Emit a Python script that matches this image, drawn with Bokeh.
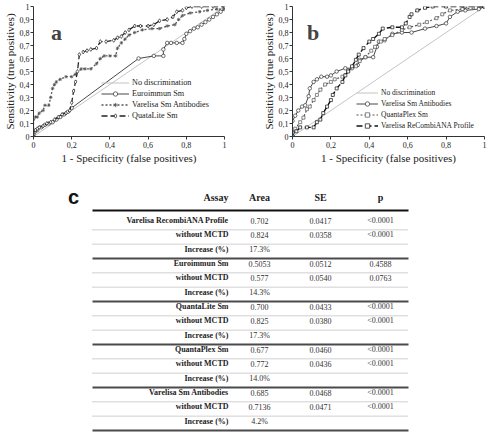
import json
from bokeh.plotting import figure
from bokeh.models import (Range1d, FixedTicker, CustomJSTickFormatter, Legend, LegendItem,
                          Label, ColumnDataSource)
from bokeh.layouts import row, column
from bokeh.core.properties import value
from bokeh.embed import file_html
from bokeh.resources import INLINE

SERIF = "Liberation Serif"

# ---------------- data: panel a ----------------
diag_x = [0, 1]
diag_y = [0, 1]

euro_fpr = [0, 0.0, 0.01, 0.02, 0.04, 0.06, 0.08, 0.10, 0.12, 0.14, 0.16, 0.18, 0.20, 0.55, 0.63,
            0.68, 0.68, 0.70, 0.72, 0.75, 0.78, 0.79, 0.80, 0.82, 0.84, 0.86, 0.88, 0.90, 0.92,
            0.94, 0.96, 0.98, 1.0, 1.0]
euro_tpr = [0, 0.02, 0.04, 0.05, 0.07, 0.09, 0.10, 0.11, 0.13, 0.15, 0.17, 0.19, 0.22, 0.60, 0.62,
            0.62, 0.67, 0.72, 0.72, 0.72, 0.72, 0.75, 0.79, 0.81, 0.83, 0.84, 0.86, 0.88, 0.90,
            0.92, 0.94, 0.96, 0.98, 1.0]

vsm_a_fpr = [0, 0, 0.01, 0.02, 0.03, 0.05, 0.06, 0.08, 0.09, 0.10, 0.11, 0.12, 0.14, 0.17, 0.20,
             0.22, 0.25, 0.27, 0.30, 0.33, 0.35, 0.37, 0.40, 0.43, 0.44, 0.46, 0.48, 0.50, 0.53,
             0.57, 0.62, 0.66, 0.70, 0.74, 0.76, 0.78, 0.82, 0.87, 0.91, 0.96, 1.0, 1.0]
vsm_a_tpr = [0, 0.13, 0.15, 0.15, 0.18, 0.20, 0.24, 0.24, 0.30, 0.37, 0.40, 0.42, 0.44, 0.46, 0.46,
             0.48, 0.52, 0.52, 0.52, 0.56, 0.60, 0.62, 0.62, 0.62, 0.68, 0.72, 0.75, 0.78, 0.80,
             0.82, 0.83, 0.83, 0.85, 0.86, 0.90, 0.93, 0.95, 0.96, 0.97, 0.98, 0.98, 1.0]

qlite_fpr = [0, 0, 0.01, 0.02, 0.03, 0.05, 0.07, 0.09, 0.11, 0.13, 0.15, 0.17, 0.19, 0.20, 0.21,
             0.22, 0.23, 0.24, 0.26, 0.28, 0.30, 0.33, 0.35, 0.38, 0.42, 0.44, 0.46, 0.48, 0.50,
             0.53, 0.56, 0.60, 0.63, 0.66, 0.70, 0.73, 0.75, 0.78, 0.80, 0.83, 0.88, 0.94, 1.0]
qlite_tpr = [0, 0.03, 0.05, 0.06, 0.07, 0.08, 0.10, 0.11, 0.13, 0.15, 0.17, 0.18, 0.20, 0.26, 0.35,
             0.42, 0.50, 0.63, 0.65, 0.66, 0.67, 0.68, 0.73, 0.73, 0.74, 0.76, 0.77, 0.80, 0.82,
             0.85, 0.85, 0.85, 0.86, 0.89, 0.90, 0.92, 0.96, 0.97, 0.99, 1.0, 1.0, 1.0, 1.0]

# ---------------- data: panel b ----------------
vsm_b_fpr = [0, 0, 0.014, 0.03, 0.05, 0.066, 0.084, 0.09, 0.11, 0.127, 0.15, 0.18, 0.20, 0.23,
             0.275, 0.31, 0.34, 0.35, 0.38, 0.42, 0.44, 0.45, 0.48, 0.52, 0.57, 0.62, 0.69, 0.75,
             0.80, 0.82, 0.86, 0.90, 0.97, 1.0]
vsm_b_tpr = [0, 0.12, 0.16, 0.20, 0.23, 0.24, 0.31, 0.37, 0.42, 0.44, 0.46, 0.46, 0.47, 0.50,
             0.525, 0.525, 0.55, 0.59, 0.61, 0.61, 0.69, 0.73, 0.74, 0.79, 0.80, 0.80, 0.83, 0.85,
             0.87, 0.92, 0.96, 0.97, 0.98, 1.0]

qplex_fpr = [0, 0, 0.014, 0.04, 0.057, 0.075, 0.09, 0.11, 0.127, 0.145, 0.17, 0.20, 0.22, 0.26,
             0.29, 0.33, 0.35, 0.38, 0.41, 0.43, 0.46, 0.48, 0.52, 0.57, 0.61, 0.66, 0.70, 0.75,
             0.78, 0.82, 0.885, 0.955, 1.0]
qplex_tpr = [0, 0.03, 0.06, 0.11, 0.145, 0.21, 0.23, 0.28, 0.32, 0.36, 0.40, 0.42, 0.44, 0.46,
             0.51, 0.54, 0.58, 0.61, 0.66, 0.69, 0.73, 0.75, 0.78, 0.82, 0.84, 0.86, 0.88, 0.91,
             0.94, 0.97, 0.98, 0.99, 1.0]

recomb_fpr = [0, 0, 0.02, 0.04, 0.075, 0.11, 0.127, 0.145, 0.16, 0.18, 0.20, 0.21, 0.23, 0.26,
              0.275, 0.29, 0.31, 0.33, 0.345, 0.37, 0.40, 0.42, 0.45, 0.47, 0.52, 0.57, 0.59,
              0.61, 0.62, 0.65, 0.69, 0.73, 0.80, 0.90, 1.0]
recomb_tpr = [0, 0.03, 0.04, 0.07, 0.07, 0.07, 0.11, 0.13, 0.18, 0.23, 0.28, 0.32, 0.37, 0.42,
              0.47, 0.50, 0.54, 0.59, 0.63, 0.68, 0.73, 0.75, 0.79, 0.83, 0.84, 0.84, 0.87,
              0.92, 0.94, 0.97, 0.99, 1.0, 1.0, 1.0, 1.0]

x_tick_vals = [0, 0.2, 0.4, 0.6, 0.8, 1]
x_tick_labels = ["0", "0,2", "0,4", "0,6", "0,8", "1"]
y_tick_vals = [0, 0.1, 0.2, 0.3, 0.4, 0.5, 0.6, 0.7, 0.8, 0.9, 1]
y_tick_labels = ["0", "0,1", "0,2", "0,3", "0,4", "0,5", "0,6", "0,7", "0,8", "0,9", "1"]

# ---------------- data: table ----------------
table_header = ["Assay", "Area", "SE", "p"]
assay_labels = ["Varelisa RecombiANA Profile", "without MCTD", "Increase (%)",
                "Euroimmun Sm", "without MCTD", "Increase (%)",
                "QuantaLite Sm", "without MCTD", "Increase (%)",
                "QuantaPlex Sm", "without MCTD", "Increase (%)",
                "Varelisa Sm Antibodies", "without MCTD", "Increase (%)"]
area_vals = ["0.702", "0.824", "17.3%", "0.5053", "0.577", "14.3%", "0.700", "0.825", "17.3%",
             "0.677", "0.772", "14.0%", "0.685", "0.7136", "4.2%"]
se_vals = ["0.0417", "0.0358", "", "0.0512", "0.0540", "", "0.0433", "0.0380", "",
           "0.0460", "0.0436", "", "0.0468", "0.0471", ""]
p_vals = ["<0.0001", "<0.0001", "", "0.4588", "0.0763", "", "<0.0001", "<0.0001", "",
          "<0.0001", "<0.0001", "", "<0.0001", "<0.0001", ""]


def tick_formatter(vals, labs):
    code = ("const vals = %s; const labs = %s;"
            "for (let i = 0; i < vals.length; i++) { if (Math.abs(vals[i] - tick) < 1e-6) return labs[i]; }"
            "return '';") % (json.dumps(vals), json.dumps(labs))
    return CustomJSTickFormatter(code=code)


def make_panel(width, border_left, border_right):
    p = figure(width=width, height=170, output_backend="svg", toolbar_location=None,
               x_range=Range1d(0, 1), y_range=Range1d(0, 1),
               min_border_left=border_left, min_border_right=border_right,
               min_border_top=6, min_border_bottom=34)
    p.outline_line_color = None
    p.xgrid.visible = False
    p.ygrid.visible = False
    p.background_fill_color = "white"
    p.border_fill_color = "white"
    p.xaxis.ticker = FixedTicker(ticks=x_tick_vals)
    p.yaxis.ticker = FixedTicker(ticks=y_tick_vals)
    p.xaxis.formatter = tick_formatter(x_tick_vals, x_tick_labels)
    p.yaxis.formatter = tick_formatter(y_tick_vals, y_tick_labels)
    p.xaxis.axis_label = "1 - Specificity (false positives)"
    p.yaxis.axis_label = "Sensitivity (true positives)"
    for ax in (p.xaxis[0], p.yaxis[0]):
        ax.axis_label_text_font = SERIF
        ax.axis_label_text_font_size = "11px"
        ax.axis_label_text_font_style = "normal"
        ax.axis_label_text_color = "#222222"
        ax.axis_label_standoff = 1
        ax.major_label_text_font = SERIF
        ax.major_label_text_font_size = "8px"
        ax.major_label_text_color = "#222222"
        ax.major_label_standoff = 1
        ax.major_tick_out = 3
        ax.major_tick_in = 0
        ax.minor_tick_out = 0
        ax.minor_tick_in = 0
        ax.axis_line_color = "#333333"
        ax.major_tick_line_color = "#333333"
    p.xaxis[0].axis_label_standoff = 1
    p.xaxis[0].major_label_standoff = 2
    return p


def add_series(p, xs, ys, color, dash, width, marker, msize):
    ln = p.line(xs, ys, line_color=color, line_dash=dash, line_width=width)
    if marker is None:
        return [ln]
    sc = p.scatter(xs, ys, marker=marker, size=msize, fill_color="white",
                   line_color=color, line_width=0.7)
    return [ln, sc]


def style_legend(p, items, loc, glyph_w, font_size):
    leg = Legend(items=items, location=loc)
    leg.label_text_font = SERIF
    leg.label_text_font_size = font_size
    leg.label_text_color = "#222222"
    leg.label_height = 11
    leg.glyph_height = 11
    leg.glyph_width = glyph_w
    leg.label_standoff = 3
    leg.spacing = 0
    leg.padding = 0
    leg.margin = 0
    leg.border_line_color = None
    leg.background_fill_alpha = 0
    p.add_layout(leg)


# ---------------- panel a ----------------
pa = make_panel(246, 32, 22)
r_diag = add_series(pa, diag_x, diag_y, "#c4c4c4", "solid", 1, None, 0)
r_euro = add_series(pa, euro_fpr, euro_tpr, "#333333", "solid", 0.9, "circle", 3.5)
r_vsm = add_series(pa, vsm_a_fpr, vsm_a_tpr, "#555555", "2 2", 1.3, "asterisk", 3.5)
r_ql = add_series(pa, qlite_fpr, qlite_tpr, "#222222", "6 3", 1.3, "diamond", 4)
style_legend(pa, [LegendItem(label="No discrimination", renderers=r_diag),
                  LegendItem(label="Euroimmun Sm", renderers=r_euro),
                  LegendItem(label="Varelisa Sm Antibodies", renderers=r_vsm),
                  LegendItem(label="QuataLite Sm", renderers=r_ql)], (68, 15), 28, "8.2px")
pa.add_layout(Label(x=0.12, y=0.8, text="a", text_font=SERIF, text_font_size="22px",
                    text_font_style="bold", text_align="center", text_baseline="alphabetic"))

# ---------------- panel b ----------------
pb = make_panel(246, 46, 8)
rb_diag = add_series(pb, diag_x, diag_y, "#c4c4c4", "solid", 1, None, 0)
rb_vsm = add_series(pb, vsm_b_fpr, vsm_b_tpr, "#333333", "solid", 0.9, "circle", 3.5)
rb_qp = add_series(pb, qplex_fpr, qplex_tpr, "#555555", "2 2", 1.2, "square", 3)
rb_rc = add_series(pb, recomb_fpr, recomb_tpr, "#111111", "6 3", 1.4, "square", 3)
style_legend(pb, [LegendItem(label="No discrimination", renderers=rb_diag),
                  LegendItem(label="Varelisa Sm Antibodies", renderers=rb_vsm),
                  LegendItem(label="QuantaPlex Sm", renderers=rb_qp),
                  LegendItem(label="Varelisa ReCombiANA Profile", renderers=rb_rc)], (64, 5), 22, "7.5px")
pb.add_layout(Label(x=0.107, y=0.8, text="b", text_font=SERIF, text_font_size="22px",
                    text_font_style="bold", text_align="center", text_baseline="alphabetic"))

# ---------------- table ----------------
n_rows = len(assay_labels)
pt = figure(width=492, height=265, output_backend="svg", toolbar_location=None,
            x_range=Range1d(0, 492), y_range=Range1d(15.35, -3.14),
            x_axis_type=None, y_axis_type=None,
            min_border_left=0, min_border_right=0, min_border_top=0, min_border_bottom=0)
pt.outline_line_color = None
pt.xgrid.visible = False
pt.ygrid.visible = False

X_LEFT, X_RIGHT = 92, 408
X_LABEL, X_AREA, X_SE, X_P = 228, 259, 320, 380
HEADER_Y = -1.26

src = ColumnDataSource(dict(y=[i + 0.35 for i in range(n_rows)], label=assay_labels,
                            area=area_vals, se=se_vals, p=p_vals))
pt.text(x=X_LABEL, y="y", text="label", source=src, text_align="right", text_baseline="middle",
        text_font=value(SERIF), text_font_style="bold", text_font_size="8px", text_color="#222222")
for xc, col in ((X_AREA, "area"), (X_SE, "se"), (X_P, "p")):
    pt.text(x=xc, y="y", text=col, source=src, text_align="center", text_baseline="middle",
            text_font=value(SERIF), text_font_size="8px", text_color="#333333")

pt.text(x=[X_LABEL], y=[HEADER_Y], text=[table_header[0]], text_align="right",
        text_baseline="middle", text_font=value(SERIF), text_font_style="bold",
        text_font_size="10px", text_color="#222222")
pt.text(x=[X_AREA, X_SE, X_P], y=[HEADER_Y] * 3, text=table_header[1:], text_align="center",
        text_baseline="middle", text_font=value(SERIF), text_font_style="bold",
        text_font_size="10px", text_color="#222222")
pt.text(x=[73], y=[HEADER_Y], text=["c"], text_align="center", text_baseline="middle",
        text_font=value("Liberation Sans"), text_font_style="bold", text_font_size="20px",
        text_color="#111111")

pt.segment(x0=X_LEFT, x1=X_RIGHT, y0=-0.35, y1=-0.35, line_color="#111111", line_width=2.2)
thin_y = [i + 1 for i in range(n_rows) if (i + 1) % 3 != 0]
thick_y = [i + 1 for i in range(n_rows) if (i + 1) % 3 == 0]
pt.segment(x0=X_LEFT, x1=X_RIGHT, y0=thin_y, y1=thin_y, line_color="#8a8a8a",
           line_width=0.8, line_dash="1 1")
pt.segment(x0=X_LEFT, x1=X_RIGHT, y0=thick_y, y1=thick_y, line_color="#4a4a4a", line_width=2)

layout = column(row(pa, pb), pt)
open("out.html", "w").write(file_html(layout, INLINE))
